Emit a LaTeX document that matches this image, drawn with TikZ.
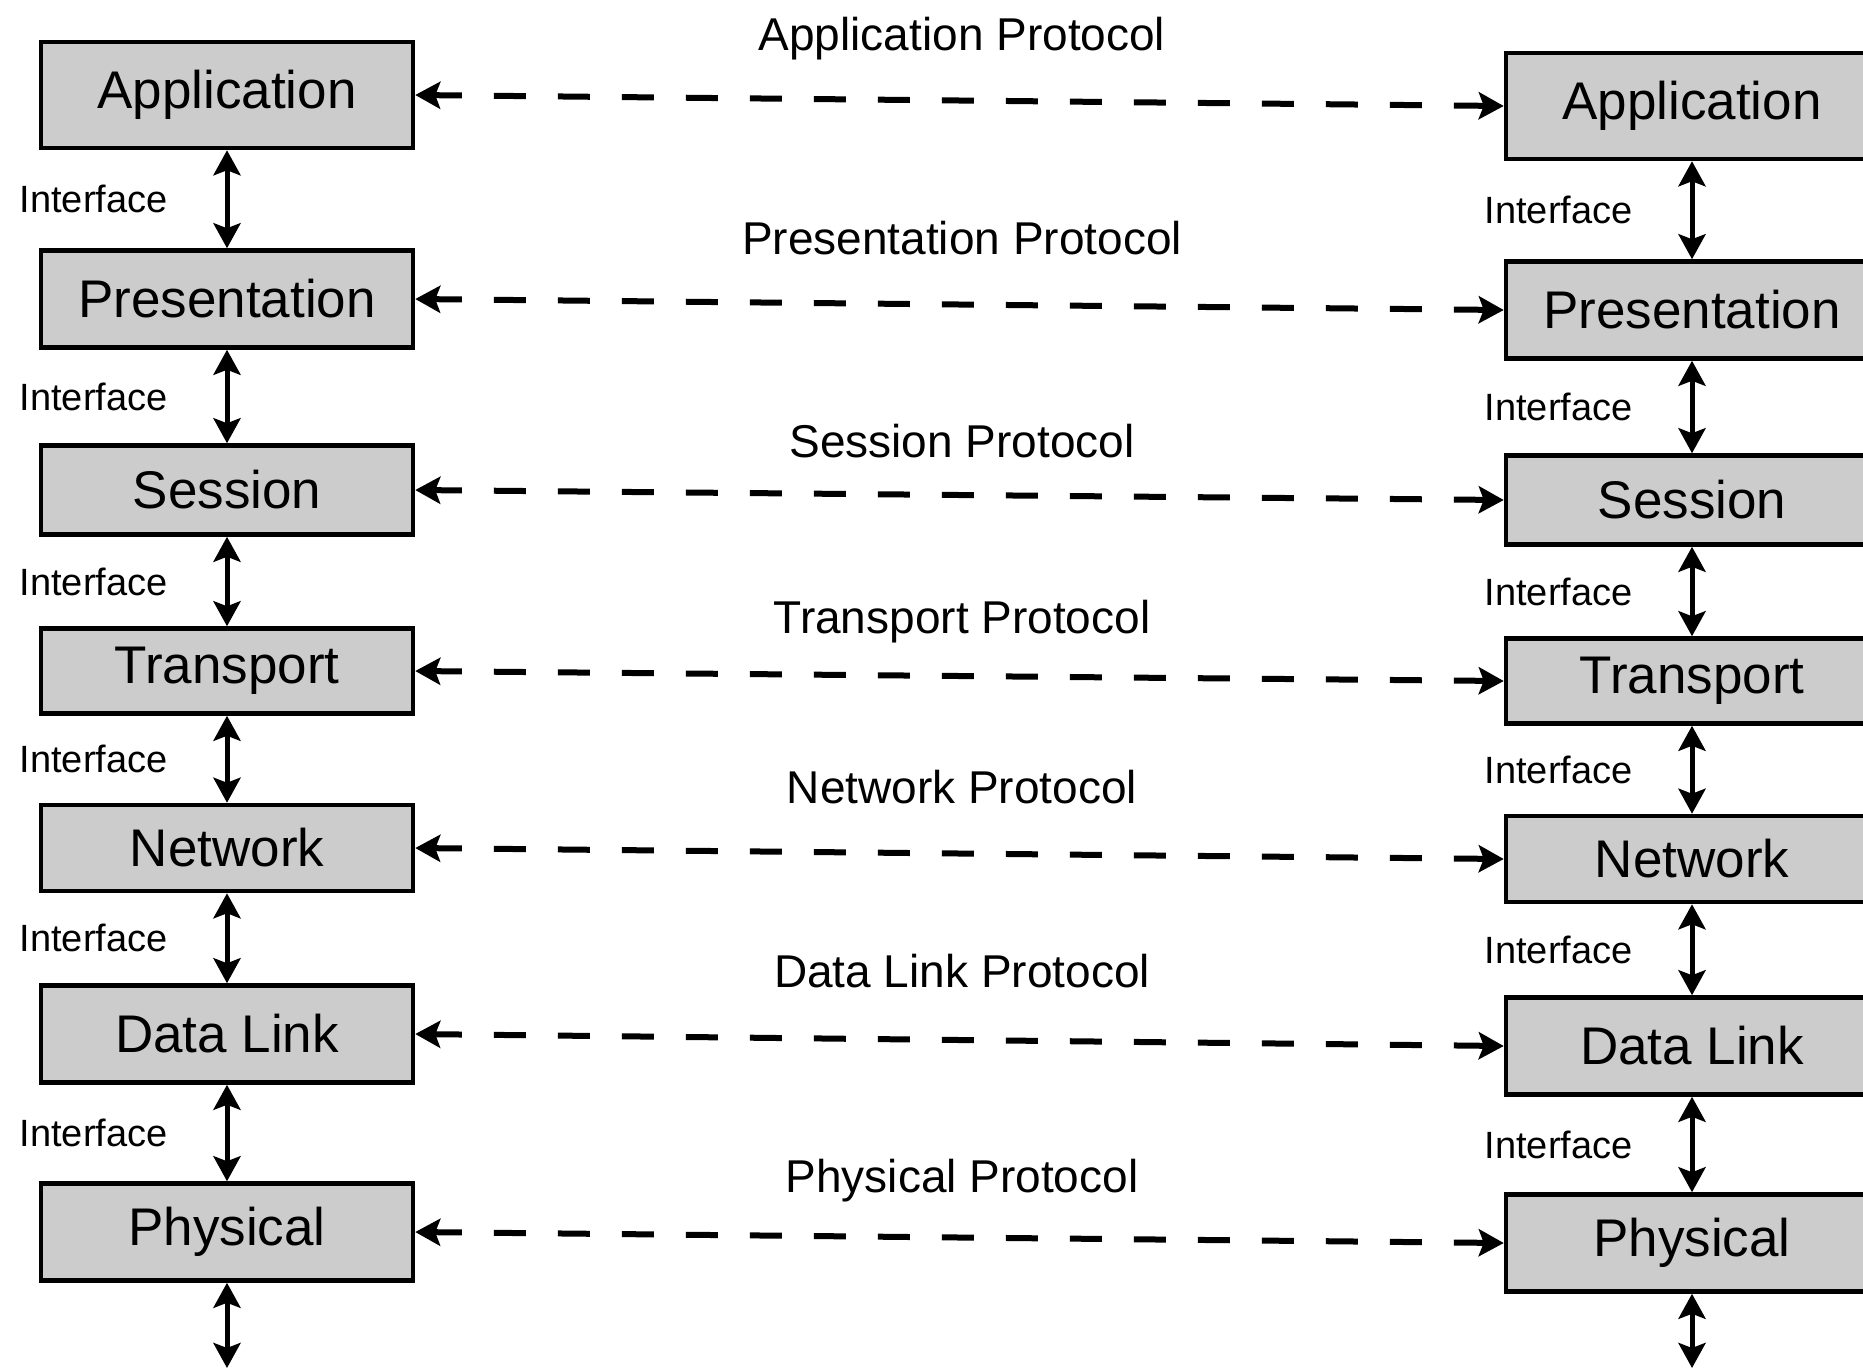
\documentclass[tikz,border=0pt]{standalone}
\usepackage{fontspec}
\setmainfont{Liberation Sans}
\usetikzlibrary{arrows.meta}
\definecolor{boxgray}{gray}{0.8}
\begin{document}
\begin{tikzpicture}[x=1pt,y=-1pt,
  layer/.style={draw=black, line width=4.5pt, fill=boxgray, minimum width=372pt,
    minimum height=#1, inner sep=0pt, font=\fontsize{53}{60}\selectfont},
  iface/.style={<->, line width=5pt, >={Stealth[length=25pt,width=27pt,inset=5pt]}},
  proto/.style={<->, line width=6pt, dash pattern=on 32pt off 32pt, dash phase=4pt,
    >={Stealth[length=25pt,width=27pt,inset=5pt]}},
  ilabel/.style={left=57pt, inner sep=0pt, font=\fontsize{38}{44}\selectfont},
  plabel/.style={inner sep=0pt, font=\fontsize{46}{52}\selectfont}
]
\useasboundingbox (0,0) rectangle (1863,1369);
\clip (0,0) rectangle (1863,1369);

% left stack
\node[layer=106pt] (LA) at (227,95)   {Application};
\node[layer=97pt]  (LP) at (227,299)  {Presentation};
\node[layer=89pt]  (LS) at (227,490)  {Session};
\node[layer=85pt]  (LT) at (227,671)  {Transport};
\node[layer=86pt]  (LN) at (227,848)  {Network};
\node[layer=97pt]  (LD) at (227,1034) {Data Link};
\node[layer=97pt]  (LF) at (227,1232) {Physical};
\coordinate (LB) at (227,1368);

% right stack
\node[layer=106pt] (RA) at (1692,106)  {Application};
\node[layer=97pt]  (RP) at (1692,310)  {Presentation};
\node[layer=89pt]  (RS) at (1692,500)  {Session};
\node[layer=85pt]  (RT) at (1692,681)  {Transport};
\node[layer=86pt]  (RN) at (1692,859)  {Network};
\node[layer=97pt]  (RD) at (1692,1046) {Data Link};
\node[layer=97pt]  (RF) at (1692,1243) {Physical};
\coordinate (RB) at (1692,1368);

% interfaces
\draw[iface] (LA.south) -- node[ilabel] {Interface} (LP.north);
\draw[iface] (LP.south) -- node[ilabel] {Interface} (LS.north);
\draw[iface] (LS.south) -- node[ilabel] {Interface} (LT.north);
\draw[iface] (LT.south) -- node[ilabel] {Interface} (LN.north);
\draw[iface] (LN.south) -- node[ilabel] {Interface} (LD.north);
\draw[iface] (LD.south) -- node[ilabel] {Interface} (LF.north);
\draw[iface] (LF.south) -- (LB);

\draw[iface] (RA.south) -- node[ilabel] {Interface} (RP.north);
\draw[iface] (RP.south) -- node[ilabel] {Interface} (RS.north);
\draw[iface] (RS.south) -- node[ilabel] {Interface} (RT.north);
\draw[iface] (RT.south) -- node[ilabel] {Interface} (RN.north);
\draw[iface] (RN.south) -- node[ilabel] {Interface} (RD.north);
\draw[iface] (RD.south) -- node[ilabel] {Interface} (RF.north);
\draw[iface] (RF.south) -- (RB);

% protocols
\draw[proto] (LA.east) -- (RA.west);
\draw[proto] (LP.east) -- (RP.west);
\draw[proto] (LS.east) -- (RS.west);
\draw[proto] (LT.east) -- (RT.west);
\draw[proto] (LN.east) -- (RN.west);
\draw[proto] (LD.east) -- (RD.west);
\draw[proto] (LF.east) -- (RF.west);

\node[plabel] (pa) at (962,39)   {Application Protocol};
\node[plabel] (pp) at (962,238)  {Presentation Protocol};
\node[plabel] (ps) at (962,441)  {Session Protocol};
\node[plabel] (pt) at (962,622)  {Transport Protocol};
\node[plabel] (pn) at (962,787)  {Network Protocol};
\node[plabel] (pd) at (962,971)  {Data Link Protocol};
\node[plabel] (pf) at (962,1181) {Physical Protocol};
\end{tikzpicture}
\end{document}
